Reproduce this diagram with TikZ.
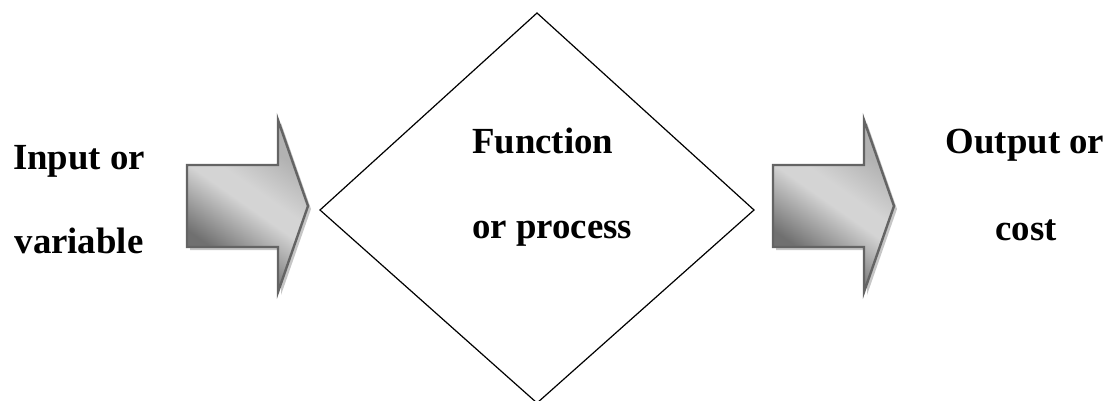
\documentclass[tikz,border=0pt]{standalone}
\usepackage{fontspec}
\setmainfont{Liberation Serif}
\definecolor{arrowedge}{RGB}{100,100,100}
\definecolor{arrowshadow}{RGB}{198,198,198}
\definecolor{shadedark}{RGB}{112,112,112}
\definecolor{shadelight}{RGB}{212,212,212}
\definecolor{shadeend}{RGB}{178,178,178}
% diagonal grey sheen for the block arrows: dark corner, bright middle band
\pgfdeclareverticalshading{arrowsheen}{100bp}{
  color(0bp)=(shadedark); color(32bp)=(shadedark); color(50bp)=(shadelight);
  color(56bp)=(shadelight); color(70bp)=(shadeend); color(100bp)=(shadeend)}
\begin{document}
\begin{tikzpicture}[x=1pt,y=-1pt,
  textline/.style={font=\fontsize{36.8}{40}\selectfont\bfseries, anchor=base, inner sep=0pt},
  leftline/.style={textline, anchor=base west},
  fatarrow/.pic={
    % soft drop shadow
    \fill[arrowshadow, shift={(3,3)}]
      (0,0) -- (91,0) -- (91,-45) -- (121,41) -- (91,127) -- (91,82) -- (0,82) -- cycle;
    % shaded arrow body with grey rim
    \draw[arrowedge, line width=2.4pt, line join=miter,
          shading=arrowsheen, shading angle=-35]
      (0,0) -- (91,0) -- (91,-45) -- (121,41) -- (91,127) -- (91,82) -- (0,82) -- cycle;
  }]
\useasboundingbox (0,0) rectangle (1118,401);

% process diamond
\coordinate (dtop) at (537,13);
\coordinate (dright) at (754,210);
\coordinate (dbottom) at (537,403);
\coordinate (dleft) at (320,210);
\draw[black, line width=1.2pt, line join=miter] (dtop) -- (dright) -- (dbottom) -- (dleft) -- cycle;

% block arrows
\pic (inarrow) at (187,165) {fatarrow};
\pic (outarrow) at (773,165) {fatarrow};

% labels
\node[textline] (in1) at (79,169) {Input or};
\node[textline] (in2) at (79,253) {variable};
\node[leftline] (fn1) at (472,153) {Function};
\node[leftline] (fn2) at (472,238) {or process};
\node[textline] (out1) at (1025,153) {Output or};
\node[textline] (out2) at (1026,240) {cost};
\end{tikzpicture}
\end{document}
